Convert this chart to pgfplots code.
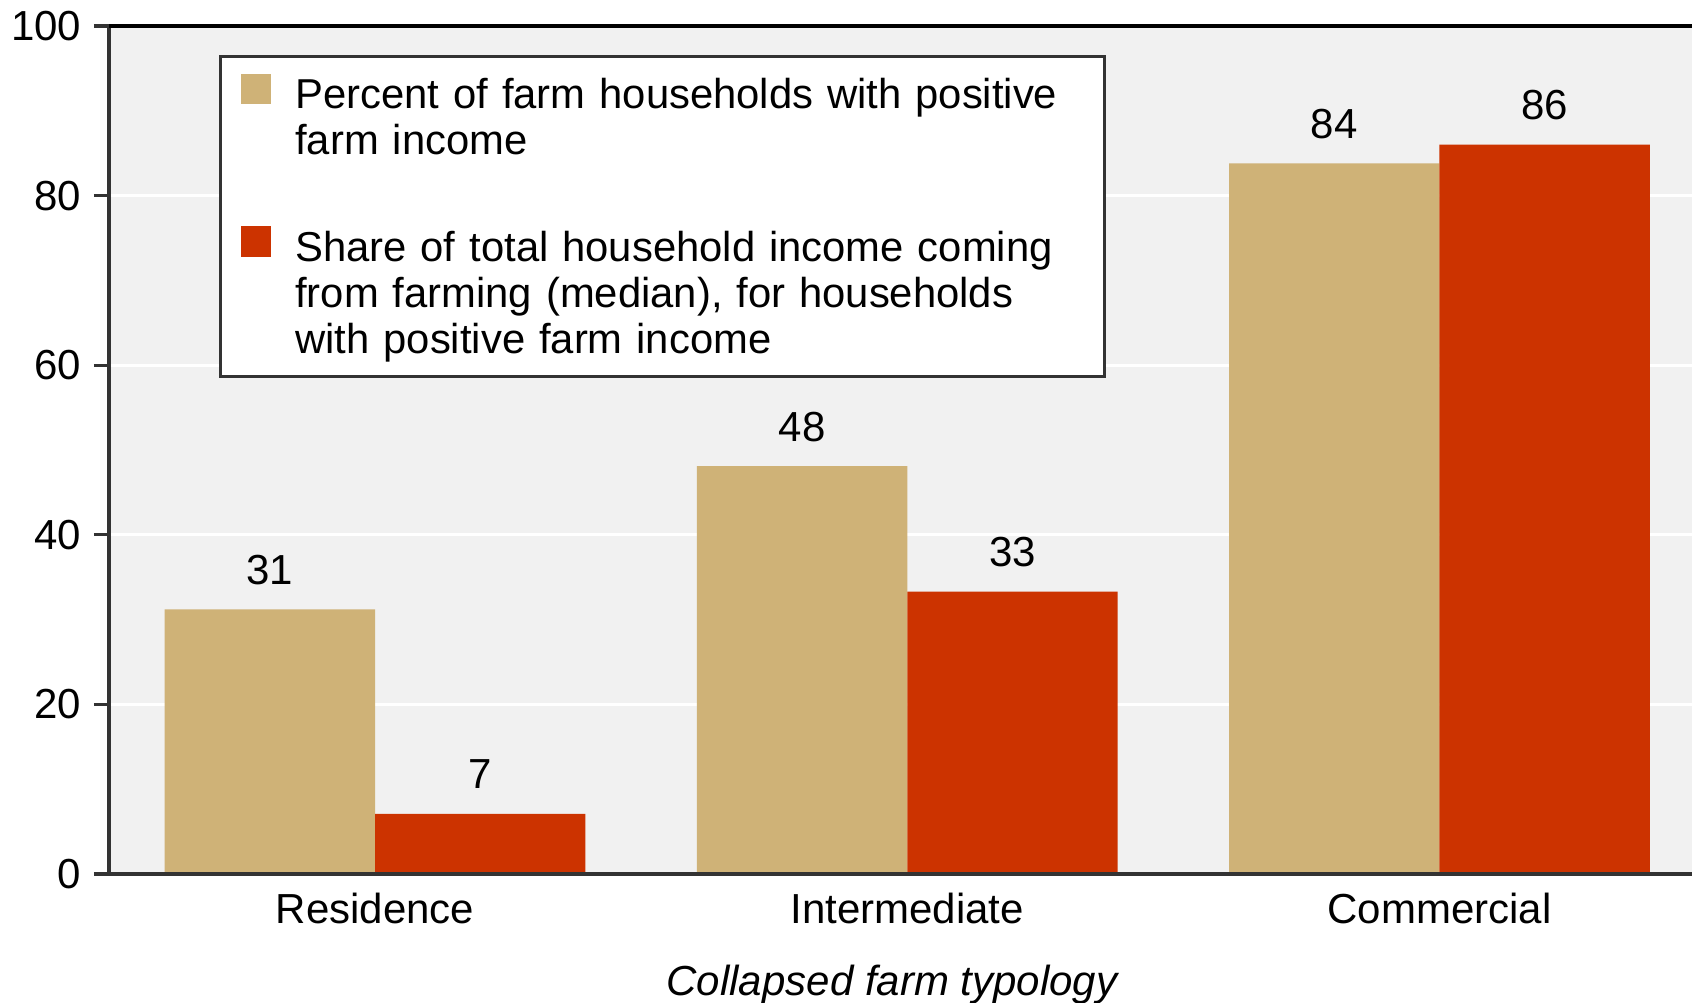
\documentclass[border=0pt]{standalone}
\usepackage{fontspec}
\setmainfont{Liberation Sans}
\usepackage{pgfplots}
\pgfplotsset{compat=1.18}
\definecolor{tanbar}{HTML}{CFB277}
\definecolor{rustbar}{HTML}{CC3300}
\definecolor{bgc}{HTML}{F1F1F1}
\definecolor{axgray}{HTML}{333333}
\pgfplotsset{sqlegend/.style={legend image code/.code={\fill[##1] (0pt,1.1pt) rectangle (7.6pt,8.75pt);}}}
\begin{document}
\begin{tikzpicture}
\begin{axis}[
  at={(0,0)}, anchor=south west,
  scale only axis, width=395.75pt, height=212pt,
  xmin=-0.5, xmax=2.4746, ymin=0, ymax=100,
  clip=false,
  axis x line*=bottom, axis y line*=left,
  axis line style={axgray, line width=0.8pt},
  axis background/.style={fill=bgc},
  ytick={0,20,...,100},
  xtick={0,1,2}, xticklabels={Residence,Intermediate,Commercial},
  x tick style={draw=none},
  y tick style={axgray, line width=0.8pt},
  tick align=outside, major tick length=3.75pt,
  ymajorgrids, grid style={white, line width=0.8pt},
  /pgf/number format/assume math mode=true,
  ticklabel style={font=\fontsize{10.5}{12}\selectfont},
  yticklabel style={anchor=east, inner sep=0pt, xshift=-3pt},
  xticklabel style={anchor=base, inner sep=0pt, yshift=-8.65pt},
  xlabel={Collapsed farm typology},
  x label style={at={(axis description cs:0.4946,0)}, anchor=base, yshift=-30.5pt, font=\itshape\fontsize{10.5}{12}\selectfont},
  nodes near coords={\pgfmathprintnumber[fixed,precision=0]{\pgfplotspointmeta}},
  legend style={at={(0,1)}, anchor=north west, xshift=27.5pt, yshift=-7.25pt,
    draw=axgray, line width=0.75pt, fill=white,
    inner xsep=5.1pt, inner ysep=4.3pt, row sep=17.95pt, column sep=6pt,
    font=\fontsize{10.45}{11.5}\selectfont,
    cells={anchor=base west},
    nodes={inner sep=0pt, text width=197.1pt, align=left}},
]
\addplot[ybar, bar width=52.6pt, bar shift=-26.3pt, fill=tanbar, draw=none, sqlegend,
  every node near coord/.append style={anchor=base, inner sep=0pt, xshift=-26.3pt, yshift=6.2pt, font=\fontsize{10.5}{12}\selectfont, text=black}]
  coordinates {(0,31.2) (1,48.1) (2,83.8)};
\addlegendentry[text depth=11.5pt]{Percent of farm households with positive\\farm income}
\addplot[ybar, bar width=52.6pt, bar shift=26.3pt, fill=rustbar, draw=none, sqlegend,
  every node near coord/.append style={anchor=base, inner sep=0pt, xshift=26.3pt, yshift=6.2pt, font=\fontsize{10.5}{12}\selectfont, text=black}]
  coordinates {(0,7.1) (1,33.3) (2,86.0)};
\addlegendentry[text depth=24.5pt]{Share of total household income coming\\from farming (median), for households\\with positive farm income}
\draw[axgray, line width=0.8pt] (rel axis cs:0,0) -- (rel axis cs:1,0);
\draw[black, line width=1pt] (rel axis cs:0,1) -- (rel axis cs:1,1);
\end{axis}
\pgfresetboundingbox
\path[use as bounding box] (-27.25pt,-32.25pt) rectangle (395.75pt,218.5pt);
\end{tikzpicture}
\end{document}
